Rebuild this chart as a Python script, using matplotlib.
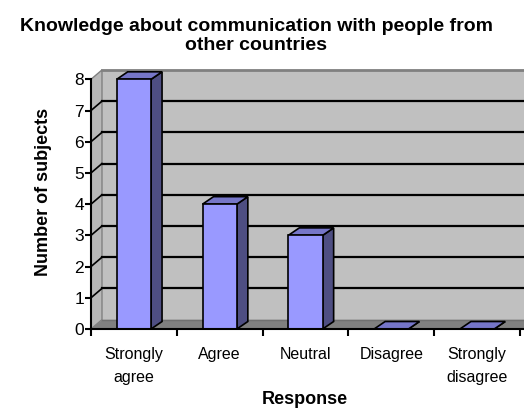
import matplotlib.pyplot as plt
import numpy as np

plt.rcParams['font.family'] = ['Liberation Sans', 'DejaVu Sans']

# данные
categories = ['Strongly\nagree', 'Agree', 'Neutral', 'Disagree', 'Strongly\ndisagree']
subjects = [8, 4, 3, 0, 0]
y_ticks = [0, 1, 2, 3, 4, 5, 6, 7, 8]

# псевдо-3D параметры (в единицах данных)
dx, dy = 0.128, 0.30      # глубина стенок
bdx, bdy = 0.128, 0.24    # глубина столбиков
bar_w = 0.40
xmax = (524 - 91) / 85.8
ymax = 8.33

fig = plt.figure(figsize=(5.24, 4.09), dpi=100)
ax = fig.add_axes([91 / 524, 80 / 409, (524 - 91) / 524, 260 / 409])
ax.set_xlim(0, xmax)
ax.set_ylim(0, ymax)

# стенки и пол
ax.fill([dx, xmax, xmax, dx], [dy, dy, 8 + dy, 8 + dy], color='#C0C0C0', zorder=1)
ax.fill([0, dx, dx, 0], [0, dy, 8 + dy, 8], color='#B8B8B8', ec='#808080', lw=1, zorder=1)
ax.fill([0, xmax, xmax, dx], [0, 0, dy, dy], color='#808080', zorder=1)
ax.plot([dx, xmax], [8 + dy, 8 + dy], color='#808080', lw=2, zorder=2)
ax.plot([dx, xmax], [dy, dy], color='#707070', lw=1, zorder=2)

# линии сетки
for v in y_ticks[1:-1]:
    ax.plot([dx, xmax], [v + dy, v + dy], color='black', lw=1.6, zorder=2)
    ax.plot([0, dx], [v, v + dy], color='black', lw=1.2, zorder=2)

# столбики
for i, v in enumerate(subjects):
    c = i + 0.5
    x0, x1 = c - bar_w / 2, c + bar_w / 2
    ax.fill([x1, x1 + bdx, x1 + bdx, x1], [0, bdy, v + bdy, v],
            fc='#4E4E82', ec='black', lw=1.2, zorder=3)
    ax.fill([x0, x1, x1 + bdx, x0 + bdx], [v, v, v + bdy, v + bdy],
            fc='#7676C8', ec='black', lw=1.2, zorder=3)
    if v > 0:
        ax.fill([x0, x1, x1, x0], [0, 0, v, v], fc='#9999FF', ec='black', lw=1.2, zorder=4)

for s in ['top', 'right']:
    ax.spines[s].set_visible(False)
for s in ['left', 'bottom']:
    ax.spines[s].set_color('black')
    ax.spines[s].set_linewidth(1.5)
    ax.spines[s].set_zorder(5)
ax.spines['left'].set_bounds(0, 8)

ax.set_yticks(y_ticks)
ax.set_yticklabels([str(t) for t in y_ticks], fontsize=12.5)
ax.set_xticks(np.arange(0, 6))
ax.set_xticklabels([])
ax.set_xticks(np.arange(len(categories)) + 0.5, minor=True)
ax.set_xticklabels(categories, minor=True, fontsize=11.5, linespacing=1.7)
ax.tick_params(axis='x', which='major', length=5, width=1.5, direction='out')
ax.tick_params(axis='x', which='minor', length=0, pad=13)
ax.tick_params(axis='y', length=4, width=1.5, pad=1)

fig.text(256 / 524, 1 - 36 / 409, 'Knowledge about communication with people from\nother countries',
         ha='center', va='center', fontsize=14, fontweight='bold', linespacing=1.15)
fig.text(44 / 524, 1 - 192 / 409, 'Number of subjects', rotation=90,
         ha='center', va='center', fontsize=13, fontweight='bold')
fig.text(305 / 524, 1 - 400 / 409, 'Response', ha='center', va='center',
         fontsize=13, fontweight='bold')

fig.savefig('out.png', dpi=100)
